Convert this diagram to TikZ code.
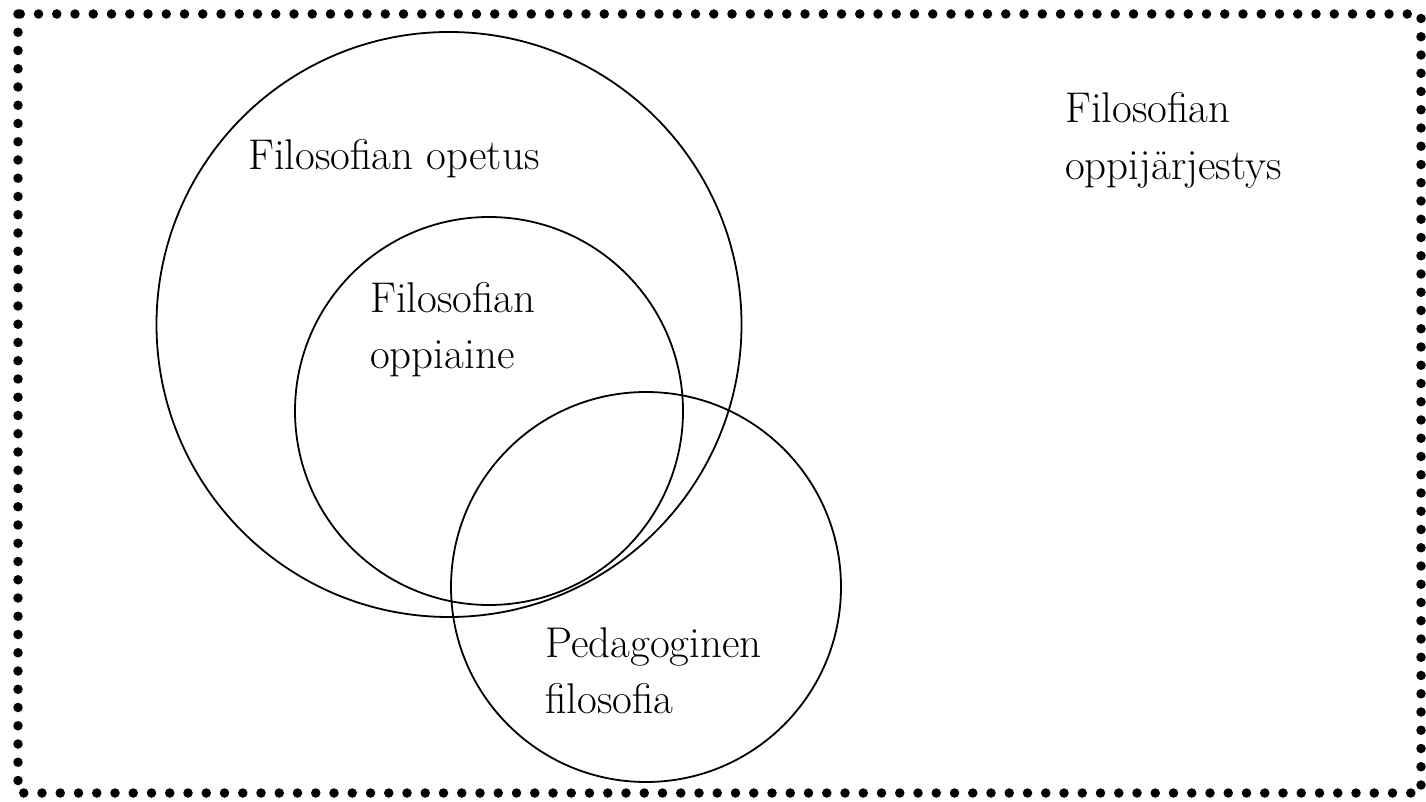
\documentclass[tikz,border=0pt]{standalone}
\usepackage{tikz}

\tikzset{
  venn/.style={black, line width=1.8pt},
  rajaus/.style={black, line width=9.5pt, line cap=round, dash pattern=on 0pt off 18.25pt},
  nimi/.style={anchor=base west, inner sep=0pt, font=\fontsize{43}{57}\selectfont}
}

\begin{document}
\begin{tikzpicture}[x=1pt, y=1pt]
            \useasboundingbox (0,0) rectangle (1426,801);
            % dotted frame
            \draw[rajaus] (18,787) rectangle (1421,8);
            % circles
            \draw[venn] (449,476.5) circle (292.5);
            \draw[venn] (489,390) circle (194);
            \draw[venn] (646,214) circle (195);
            % labels
            \node[nimi] (opetus) at (248,631) {Filosofian opetus};
            \node[nimi] (oppiaine) at (370,488) {Filosofian};
            \node[nimi] (oppiaine2) at ([yshift=-56pt]oppiaine.base west) {oppiaine};
            \node[nimi] (pedagoginen) at (545,144) {Pedagoginen};
            \node[nimi] (pedagoginen2) at ([yshift=-56pt]pedagoginen.base west) {filosofia};
            \node[nimi] (jarjestys) at (1065,678) {Filosofian};
            \node[nimi] (jarjestys2) at ([yshift=-57pt]jarjestys.base west) {oppijärjestys};
        \end{tikzpicture}
\end{document}
